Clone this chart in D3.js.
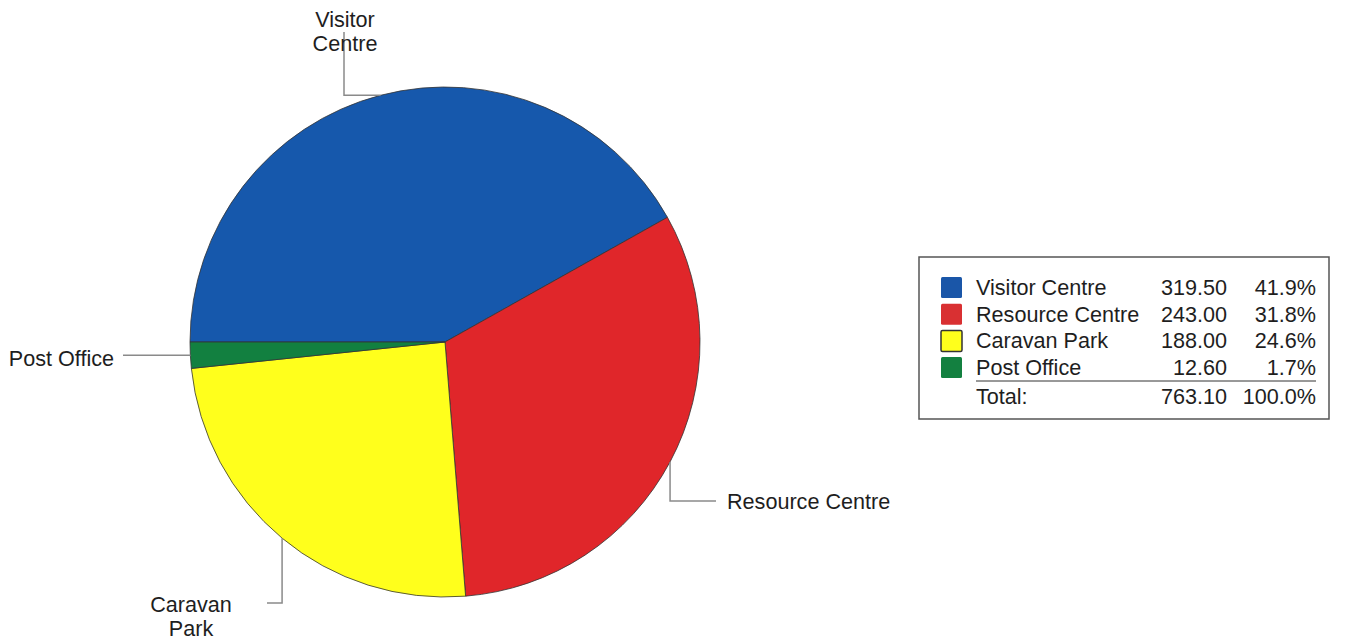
<!DOCTYPE html>
<html>
<head>
<meta charset="UTF-8">
<title>Pie chart</title>
<script src="https://cdn.jsdelivr.net/npm/d3@7"></script>
<style>
  body { margin: 0; background: #fff; }
  svg text { font-family: "Liberation Sans", Arial, sans-serif; fill: #1e1e1e; }
</style>
</head>
<body>
<div id="chart"></div>
<script>
const categories = ["Visitor Centre", "Resource Centre", "Caravan Park", "Post Office"];
const values = [319.50, 243.00, 188.00, 12.60];
const colors = ["#1658ac", "#e0262a", "#ffff1c", "#128040"];
const legendColors = ["#1a56a8", "#d93032", "#ffff1c", "#138040"];

const w = 1356, h = 642;
const cx = 445, cy = 342, radius = 255;
const fontSize = 21.6;

const svg = d3.select("#chart").append("svg")
  .attr("width", w).attr("height", h);

const pie = d3.pie().sort(null)
  .startAngle(-Math.PI / 2).endAngle(3 * Math.PI / 2);
const arcs = pie(values);
const arc = d3.arc().innerRadius(0).outerRadius(radius);

const g = svg.append("g").attr("transform", `translate(${cx},${cy})`);
g.selectAll("path").data(arcs).enter().append("path")
  .attr("d", arc)
  .attr("fill", (d, i) => colors[i])
  .attr("stroke", "#333")
  .attr("stroke-width", 0.8);

// leader lines: each goes from the slice's mid point on the rim to an elbow, then to the label
const labelLayout = [
  { lines: ["Visitor", "Centre"], path: p => [[p[0], p[1]], [344, p[1]], [344, 32]], tx: 345, ty: 27, anchor: "middle" },
  { lines: ["Resource Centre"], path: p => [[p[0], p[1]], [p[0], 501], [716, 501]], tx: 727, ty: 509, anchor: "start" },
  { lines: ["Caravan", "Park"], path: p => [[p[0], p[1]], [p[0], 603], [267, 603]], tx: 191, ty: 612, anchor: "middle" },
  { lines: ["Post Office"], path: p => [[p[0], p[1]], [123, p[1]]], tx: 114, ty: 366, anchor: "end" }
];

arcs.forEach((d, i) => {
  const a = (d.startAngle + d.endAngle) / 2;
  const p = [cx + radius * Math.sin(a), cy - radius * Math.cos(a)];
  const lay = labelLayout[i];
  svg.append("path")
    .attr("d", d3.line()(lay.path(p)))
    .attr("fill", "none")
    .attr("stroke", "#8a8a8a")
    .attr("stroke-width", 1.5);
  const t = svg.append("text")
    .attr("x", lay.tx).attr("y", lay.ty)
    .attr("text-anchor", lay.anchor)
    .style("font-size", fontSize + "px");
  lay.lines.forEach((s, j) => {
    t.append("tspan").attr("x", lay.tx).attr("dy", j === 0 ? 0 : 24).text(s);
  });
});

// legend
const total = d3.sum(values);
const lg = svg.append("g");
lg.append("rect")
  .attr("x", 919).attr("y", 257).attr("width", 410).attr("height", 162)
  .attr("fill", "#fff").attr("stroke", "#555").attr("stroke-width", 1.5);

const rowY = d3.scaleLinear().domain([0, 1]).range([287.5, 314.2]);
categories.forEach((c, i) => {
  const y = rowY(i);
  lg.append("rect")
    .attr("x", 941).attr("y", y - 10.5).attr("width", 21).attr("height", 21)
    .attr("rx", 1.5)
    .attr("fill", legendColors[i])
    .attr("stroke", i === 2 ? "#333" : "none")
    .attr("stroke-width", 1.5);
  lg.append("text").attr("x", 976).attr("y", y + 7.5)
    .style("font-size", fontSize + "px").text(c);
  lg.append("text").attr("x", 1227).attr("y", y + 7.5).attr("text-anchor", "end")
    .style("font-size", fontSize + "px").text(values[i].toFixed(2));
  lg.append("text").attr("x", 1316).attr("y", y + 7.5).attr("text-anchor", "end")
    .style("font-size", fontSize + "px").text((values[i] / total * 100).toFixed(1) + "%");
});
lg.append("line")
  .attr("x1", 976).attr("x2", 1316).attr("y1", 381).attr("y2", 381)
  .attr("stroke", "#333").attr("stroke-width", 1);
lg.append("text").attr("x", 976).attr("y", 404)
  .style("font-size", fontSize + "px").text("Total:");
lg.append("text").attr("x", 1227).attr("y", 404).attr("text-anchor", "end")
  .style("font-size", fontSize + "px").text(total.toFixed(2));
lg.append("text").attr("x", 1316).attr("y", 404).attr("text-anchor", "end")
  .style("font-size", fontSize + "px").text("100.0%");
</script>
</body>
</html>
